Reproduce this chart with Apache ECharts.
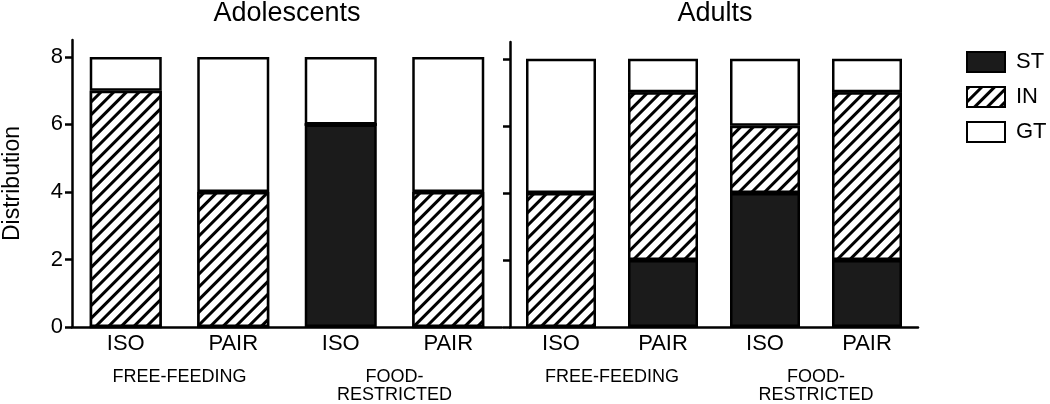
<!DOCTYPE html>
<html>
<head>
<meta charset="utf-8">
<script src="https://cdn.jsdelivr.net/npm/echarts@6/dist/echarts.min.js"></script>
<style>html,body{margin:0;padding:0;background:#fff}#c{width:1050px;height:404px}</style>
</head>
<body>
<div id="c"></div>
<script>
const panelTitles = ['Adolescents', 'Adults'];
const categories = ['ISO', 'PAIR', 'ISO', 'PAIR'];
const groups = ['FREE-FEEDING', 'FOOD-\nRESTRICTED'];
const yTicks = [0, 2, 4, 6, 8];
// Adolescents
const adoST = [0, 0, 6, 0];
const adoIN = [7, 4, 0, 4];
const adoGT = [1, 4, 2, 4];
// Adults
const aduST = [0, 2, 4, 2];
const aduIN = [4, 5, 2, 5];
const aduGT = [4, 1, 2, 1];

const FONT = 'Liberation Sans, Arial, sans-serif';
const hatch = {
  symbol: 'rect', symbolSize: 1,
  dashArrayX: [1, 0], dashArrayY: [2.6, 5.6],
  rotation: -Math.PI / 4,
  color: '#000', backgroundColor: '#fff'
};
const styles = {
  ST: { color: '#1b1b1b', borderColor: '#000', borderWidth: 2.5 },
  IN: { color: '#fff', borderColor: '#000', borderWidth: 2.5, decal: hatch },
  GT: { color: '#fff', borderColor: '#000', borderWidth: 2.5 }
};
function mk(name, data, idx, bw) {
  return { name, type: 'bar', stack: 's' + idx, xAxisIndex: idx * 2, yAxisIndex: idx,
    data, barWidth: bw, itemStyle: styles[name], emphasis: { disabled: true }, animation: false };
}
const axisLine = { show: true, lineStyle: { color: '#000', width: 2.5 } };
function yAx(idx) {
  return {
    type: 'value', gridIndex: idx, min: 0, max: 8.5,
    axisLine: axisLine,
    axisTick: { show: true, length: 7, lineStyle: { color: '#000', width: 2.5 }, customValues: yTicks },
    axisLabel: { show: idx === 0, customValues: yTicks, color: '#000', fontSize: 22, fontFamily: FONT, margin: 9 },
    splitLine: { show: false },
    name: idx === 0 ? 'Distribution' : '', nameLocation: 'middle', nameGap: 48,
    nameTextStyle: { color: '#000', fontSize: 23, fontFamily: FONT }
  };
}
function xCat(idx) {
  return { type: 'category', gridIndex: idx, data: categories, axisLine: axisLine,
    axisTick: { show: false },
    axisLabel: { color: '#000', fontSize: 22, fontFamily: FONT, margin: 6 } };
}
function xGrp(idx) {
  return { type: 'category', gridIndex: idx, data: groups, position: 'bottom',
    axisLine: { show: false }, axisTick: { show: false },
    axisLabel: { color: '#000', fontSize: 18, fontFamily: FONT, margin: 41, lineHeight: 18 } };
}
const option = {
  backgroundColor: '#fff',
  animation: false,
  title: [
    { text: panelTitles[0], left: 287, top: 0, textAlign: 'center', padding: [0, 0, 0, 0],
      textStyle: { fontSize: 27, fontWeight: 'normal', color: '#000', fontFamily: FONT } },
    { text: panelTitles[1], left: 715, top: 0, textAlign: 'center', padding: [0, 0, 0, 0],
      textStyle: { fontSize: 27, fontWeight: 'normal', color: '#000', fontFamily: FONT } }
  ],
  legend: {
    data: ['ST', 'IN', 'GT'], orient: 'vertical', left: 966, top: 51, padding: 0,
    itemWidth: 38, itemHeight: 20, itemGap: 13, icon: 'rect',
    textStyle: { fontSize: 22, color: '#000', fontFamily: FONT, padding: [0, 0, 0, 6] },
    selectedMode: false
  },
  grid: [
    { left: 71, top: 40, width: 431, height: 288 },
    { left: 510, top: 42, width: 408, height: 285 }
  ],
  xAxis: [xCat(0), xGrp(0), xCat(1), xGrp(1)],
  yAxis: [yAx(0), yAx(1)],
  series: [
    mk('ST', adoST, 0, 72), mk('IN', adoIN, 0, 72), mk('GT', adoGT, 0, 72),
    mk('ST', aduST, 1, 70), mk('IN', aduIN, 1, 70), mk('GT', aduGT, 1, 70)
  ]
};
const chart = echarts.init(document.getElementById('c'), null, { renderer: 'canvas' });
chart.setOption(option);
</script>
</body>
</html>
